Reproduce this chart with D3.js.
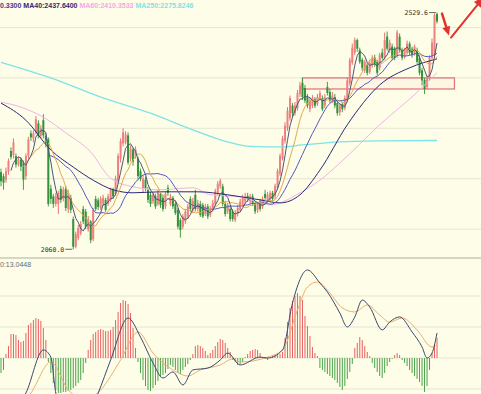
<!DOCTYPE html>
<html>
<head>
<meta charset="utf-8">
<script src="https://cdn.jsdelivr.net/npm/d3@7/dist/d3.min.js"></script>
<style>
  body { margin: 0; background: #fdfde8; }
  svg { display: block; }
</style>
</head>
<body>
<svg id="chart" width="481" height="394"></svg>
<script>
// daily candles
const opens = [2213,2205,2198,2214,2255,2247,2245,2228,2238,2232,
  2205,2245,2290,2280,2292,2310,2285,2316,2285,2278,
  2180,2165,2150,2150,2180,2160,2180,2140,2162,2120,
  2065,2082,2092,2140,2135,2100,2115,2080,2160,2157,
  2142,2150,2158,2150,2158,2178,2170,2195,2240,2270,
  2272,2286,2240,2258,2245,2240,2215,2180,2198,2178,
  2168,2155,2165,2150,2170,2162,2145,2182,2150,2162,
  2150,2138,2118,2105,2115,2125,2160,2138,2168,2140,
  2150,2148,2130,2145,2128,2138,2150,2172,2185,2185,
  2150,2135,2140,2135,2118,2130,2138,2148,2155,2166,
  2155,2165,2150,2138,2155,2145,2170,2158,2160,2172,
  2165,2182,2210,2240,2275,2300,2320,2345,2330,2340,
  2368,2390,2380,2362,2338,2345,2358,2348,2360,2360,
  2345,2382,2372,2355,2362,2350,2332,2348,2340,2356,
  2390,2430,2450,2475,2455,2436,2415,2425,2412,2425,
  2440,2432,2420,2450,2440,2482,2455,2462,2458,2445,
  2482,2455,2442,2450,2468,2458,2448,2455,2440,2415,
  2396,2382,2398,2440,2445,2527];
const closes = [2195,2192,2215,2235,2243,2272,2228,2238,2224,2198,
  2245,2278,2282,2290,2318,2285,2300,2286,2270,2150,
  2160,2150,2165,2172,2158,2178,2142,2172,2138,2065,
  2090,2102,2110,2115,2105,2120,2078,2138,2140,2144,
  2160,2162,2138,2165,2178,2165,2200,2245,2275,2292,
  2288,2232,2260,2234,2258,2205,2200,2200,2180,2158,
  2150,2168,2145,2172,2148,2140,2170,2172,2164,2145,
  2132,2105,2098,2125,2135,2145,2140,2156,2140,2152,
  2128,2125,2145,2125,2140,2152,2175,2190,2196,2150,
  2130,2148,2120,2120,2132,2142,2155,2162,2165,2160,
  2165,2152,2135,2150,2140,2160,2162,2168,2172,2160,
  2185,2215,2245,2280,2305,2335,2360,2330,2345,2370,
  2385,2362,2355,2345,2355,2360,2345,2362,2370,2338,
  2362,2370,2355,2365,2345,2330,2345,2338,2360,2395,
  2435,2460,2475,2458,2432,2420,2432,2410,2430,2440,
  2428,2410,2445,2440,2475,2458,2470,2440,2440,2490,
  2455,2440,2455,2468,2450,2445,2462,2432,2410,2395,
  2378,2398,2440,2470,2525,2512];
const highs = [2220,2210,2222,2240,2262,2280,2250,2244,2242,2236,
  2250,2283,2296,2296,2324,2316,2306,2328,2290,2282,
  2188,2170,2172,2176,2186,2184,2186,2178,2168,2125,
  2095,2108,2116,2146,2140,2126,2118,2142,2166,2162,
  2165,2168,2162,2170,2182,2182,2206,2250,2280,2300,
  2294,2292,2266,2262,2264,2244,2220,2206,2204,2184,
  2174,2172,2170,2178,2175,2168,2175,2188,2170,2166,
  2155,2142,2122,2130,2140,2150,2165,2162,2178,2158,
  2156,2152,2150,2150,2146,2158,2180,2195,2200,2190,
  2156,2152,2146,2140,2138,2148,2160,2168,2172,2172,
  2170,2170,2155,2154,2160,2165,2178,2174,2176,2176,
  2190,2220,2250,2285,2312,2342,2365,2350,2352,2376,
  2392,2400,2386,2368,2362,2366,2362,2368,2375,2365,
  2368,2392,2378,2372,2368,2355,2350,2352,2365,2400,
  2440,2468,2480,2478,2460,2440,2436,2430,2436,2445,
  2446,2436,2450,2458,2490,2492,2476,2468,2462,2495,
  2488,2460,2460,2474,2472,2462,2466,2460,2445,2420,
  2400,2404,2445,2478,2528,2529.6];
const lows = [2185,2178,2192,2208,2238,2240,2222,2224,2215,2178,
  2198,2240,2275,2272,2288,2280,2280,2280,2262,2145,
  2150,2142,2145,2130,2152,2155,2136,2132,2132,2060,
  2062,2078,2088,2110,2100,2095,2072,2076,2136,2138,
  2138,2146,2134,2146,2154,2160,2166,2190,2232,2264,
  2268,2228,2234,2226,2240,2198,2195,2172,2175,2152,
  2144,2150,2140,2146,2142,2135,2140,2166,2146,2140,
  2128,2100,2083,2100,2110,2120,2135,2132,2135,2135,
  2124,2122,2126,2120,2124,2134,2146,2168,2180,2145,
  2125,2130,2115,2115,2114,2125,2134,2144,2150,2154,
  2150,2146,2130,2132,2135,2140,2158,2152,2155,2155,
  2160,2178,2205,2236,2270,2295,2315,2322,2325,2335,
  2362,2356,2350,2340,2332,2340,2340,2344,2355,2334,
  2340,2365,2350,2350,2340,2325,2325,2332,2336,2352,
  2385,2426,2445,2452,2428,2414,2410,2405,2408,2420,
  2422,2405,2415,2436,2436,2454,2450,2436,2435,2440,
  2450,2435,2438,2446,2445,2440,2444,2428,2405,2385,
  2368,2378,2394,2436,2440,2508];

// long moving averages, [candle index, value]
const ma40 = [[0,2350],[10,2316],[20,2257],[29,2223],[37,2197],[45,2178],[53,2172],[64,2174],
  [79,2174],[91,2168],[104,2158],[112,2152],[120,2168],[128,2217],[139,2307],[152,2386],[164,2420],[175,2437.64]];
const ma60 = [[0,2352],[8,2342],[17,2322],[26,2291],[36,2253],[44,2201],[53,2184],[64,2178],
  [77,2182],[84,2168],[96,2164],[108,2148],[113,2154],[120,2172],[128,2197],[136,2231],[152,2307],[168,2376],[175,2410.3533]];
const ma250 = [[0,2431],[20,2400],[40,2362],[60,2330],[77,2297],[91,2273],[100,2264],[112,2263],
  [121,2267],[136,2273],[152,2275],[175,2275.8246]];

// MACD
const macdHist = [-9.7,-7.7,2.6,7.7,15.5,15.5,14.8,11.6,10.3,11,
  16.1,21.3,22.6,24.5,25.8,25.2,23.9,19.4,11.6,-2.6,
  -9.7,-16.1,-20.6,-22.6,-22.6,-21.9,-21.9,-21.3,-20.6,-19.4,
  -18.1,-16.1,-14.2,-9.7,-3.2,5.2,11.6,15.5,16.8,18.1,
  18.7,18.1,17.4,17.4,18.1,20,24.5,29.7,35.5,37.4,
  36.8,34.8,29,19.4,6.5,-2.6,-9.7,-14.2,-18.1,-20.6,
  -21.3,-19.4,-17.4,-14.8,-12.3,-11,-9.7,-7.1,-4.5,-5.8,
  -7.7,-9.7,-10.3,-7.7,-5.8,-3.9,-1.3,2.6,7.7,8.4,
  7.7,6.5,4.5,1.9,3.2,5.2,7.7,10.3,12.3,11.6,
  9.7,6.5,3.9,-1.3,-2.6,-4.5,-3.9,-2.6,0.6,2.6,
  4.5,5.2,5.8,5.2,3.2,0.6,-0.6,-1.3,0.6,1.3,
  1.9,1.9,2.6,3.9,12.9,23.2,32.3,36.8,40,41.9,
  40,37.4,27.1,20.6,14.2,7.1,3.2,1.3,-6.5,-7.7,
  -9,-10.3,-11.6,-12.9,-14.2,-16.1,-18.7,-20.6,-18.1,-13.5,
  -9,-3.9,6.5,9.7,13.5,11.6,7.7,3.9,1.3,-3.2,
  -6.5,-9,-11.6,-12.9,-9.7,-5.2,-2.6,-0.6,1.9,3.2,
  1.9,-1.3,-3.2,-5.2,-7.7,-9.7,-11.6,-13.5,-15.5,-18.1,
  -21.9,-18.1,-7.7,3.2,9,13.0448];
const dif = [[0,-46],[4,-37],[10,-22.6],[17,5.2],[20,0.6],[22,-22.6],[26,-37],[32,-40],[36,-33.5],
  [39,-22.6],[44,-1.3],[51,25.8],[56,13.5],[61,-3.2],[65,-12.9],[69,-9],[73,-17.4],[77,-7.7],
  [83,-6.5],[88,-1.3],[91,3.2],[96,-4.5],[104,0.6],[107,0],[113,5.2],[117,35.5],[123,56.8],
  [128,48.4],[131,42.6],[136,29],[139,20],[142,26.5],[145,37.4],[148,32.9],[153,18.1],
  [156,23.2],[160,26.5],[165,16.8],[169,7.1],[171,0],[173,3.2],[175,16.1]];
const dea = [[0,-43],[6,-33.5],[12,-22.6],[20,-2.6],[27,-20.6],[34,-27],[40,-20.6],[48,-1.3],
  [55,16.8],[61,3.2],[69,-7.7],[75,-11.6],[80,-7.7],[88,-4.5],[93,-0.6],[96,-2.6],[107,0.6],
  [113,5.2],[119,31],[123,45.8],[127,49],[132,41.9],[137,32.3],[142,29.7],[147,34.2],
  [152,27.7],[156,23.2],[161,25.8],[167,18.1],[173,7.1],[175,8.4]];

const priceTicks = [2100, 2200, 2300, 2400, 2500];
const macdTicks = [-20, 0, 20, 40];
const boxIdx = [121, 182];
const boxPrice = [2378, 2400];

const W = 481, H = 394, split = 258;
const bg = '#fdfde8';
const upColor = '#e86060', downColor = '#34923a';

const svg = d3.select('#chart');
svg.append('rect').attr('width', W).attr('height', H).attr('fill', bg);

const x = d3.scaleLinear().domain([0, closes.length - 1]).range([1, 437]);
const y = d3.scaleLinear().domain([2100, 2500]).range([229.1, 27.5]);
const ym = d3.scaleLinear().domain([-20, 40]).range([389, 296]);

const defs = svg.append('defs');
defs.append('clipPath').attr('id', 'clipTop')
  .append('rect').attr('x', 0).attr('y', 0).attr('width', W).attr('height', split - 1);
defs.append('clipPath').attr('id', 'clipBot')
  .append('rect').attr('x', 0).attr('y', split + 1).attr('width', W).attr('height', H - split);

// grid
svg.append('g').selectAll('line').data(priceTicks).join('line')
  .attr('x1', 0).attr('x2', W)
  .attr('y1', d => y(d)).attr('y2', d => y(d))
  .attr('stroke', '#e7e5d5').attr('stroke-width', 1);
svg.append('g').selectAll('line').data(macdTicks).join('line')
  .attr('x1', 0).attr('x2', W)
  .attr('y1', d => ym(d)).attr('y2', d => ym(d))
  .attr('stroke', '#e7e5d5').attr('stroke-width', 1);
svg.append('line').attr('x1', 0).attr('x2', W).attr('y1', split).attr('y2', split)
  .attr('stroke', '#d6d6c6').attr('stroke-width', 2);

const pricePanel = svg.append('g').attr('clip-path', 'url(#clipTop)');

// box zone
pricePanel.append('rect')
  .attr('x', x(boxIdx[0])).attr('y', y(boxPrice[1]))
  .attr('width', x(boxIdx[1]) - x(boxIdx[0]))
  .attr('height', y(boxPrice[0]) - y(boxPrice[1]))
  .attr('fill', 'rgba(240,160,160,0.08)')
  .attr('stroke', '#e07a7a').attr('stroke-width', 1.3);

// candles
const candles = closes.map((c, i) => ({ i, o: opens[i], h: highs[i], l: lows[i], c }));
const cg = pricePanel.append('g');
cg.selectAll('line').data(candles).join('line')
  .attr('x1', d => x(d.i)).attr('x2', d => x(d.i))
  .attr('y1', d => y(d.h)).attr('y2', d => y(d.l))
  .attr('stroke', d => d.c >= d.o ? upColor : downColor).attr('stroke-width', 0.9);
cg.selectAll('rect').data(candles).join('rect')
  .attr('x', d => x(d.i) - 1)
  .attr('y', d => y(Math.max(d.o, d.c)))
  .attr('width', 2)
  .attr('height', d => Math.max(1, Math.abs(y(d.o) - y(d.c))))
  .attr('fill', d => d.c >= d.o ? '#ee8080' : downColor);

// moving averages
function movingAvg(n) {
  return closes.map((c, i) => i < n - 1 ? null : d3.mean(closes.slice(i - n + 1, i + 1)));
}
const lineC = d3.line().defined(d => d != null).x((d, i) => x(i)).y(d => y(d));
const lineS = d3.line().x(d => x(d[0])).y(d => y(d[1])).curve(d3.curveMonotoneX);

pricePanel.append('path').datum(ma250).attr('d', lineS).attr('fill', 'none').attr('stroke', '#7fe3e6').attr('stroke-width', 1.3);
pricePanel.append('path').datum(ma60).attr('d', lineS).attr('fill', 'none').attr('stroke', '#f0b4e6').attr('stroke-width', 1);
pricePanel.append('path').datum(ma40).attr('d', lineS).attr('fill', 'none').attr('stroke', '#2a2a78').attr('stroke-width', 1);
pricePanel.append('path').datum(movingAvg(20)).attr('d', lineC).attr('fill', 'none').attr('stroke', '#5858c0').attr('stroke-width', 1);
pricePanel.append('path').datum(movingAvg(10)).attr('d', lineC).attr('fill', 'none').attr('stroke', '#e4a850').attr('stroke-width', 1);
pricePanel.append('path').datum(movingAvg(5)).attr('d', lineC).attr('fill', 'none').attr('stroke', '#4a5878').attr('stroke-width', 1);

// high / low labels
const hiIdx = d3.maxIndex(highs), loIdx = d3.minIndex(lows);
const labelFont = "'DejaVu Sans Mono', monospace";
[[hiIdx, highs[hiIdx]], [loIdx, lows[loIdx]]].forEach(([i, v]) => {
  const px = x(i), py = y(v);
  svg.append('line').attr('x1', px - 8).attr('x2', px - 1).attr('y1', py).attr('y2', py)
    .attr('stroke', '#444').attr('stroke-width', 0.8);
  svg.append('text').attr('x', px - 9).attr('y', py + 2.5)
    .attr('text-anchor', 'end').attr('font-family', labelFont).attr('font-size', 6.5)
    .attr('fill', '#333').text(v.toFixed(1));
});

// red arrows drawn next to the last high
function arrow(x1, y1, x2, y2, w, hl, hw) {
  const a = Math.atan2(y2 - y1, x2 - x1);
  const bx = x2 - hl * Math.cos(a), by = y2 - hl * Math.sin(a);
  svg.append('line').attr('x1', x1).attr('y1', y1).attr('x2', bx).attr('y2', by)
    .attr('stroke', '#e5322e').attr('stroke-width', w).attr('stroke-linecap', 'round');
  const px = -Math.sin(a) * hw / 2, py = Math.cos(a) * hw / 2;
  svg.append('path')
    .attr('d', `M${x2},${y2}L${bx + px},${by + py}L${bx - px},${by - py}Z`)
    .attr('fill', '#e5322e');
}
const lx = x(hiIdx), hy = y(highs[hiIdx]);
arrow(lx + 5, hy + 1, lx + 12, hy + 23, 2.5, 9, 8);
arrow(lx + 14, hy + 25, lx + 48, hy - 17, 2, 12, 9);

// legend text
const legend = svg.append('text').attr('x', 0).attr('y', 8)
  .attr('font-family', "'Liberation Sans', Arial, sans-serif").attr('font-size', 7).attr('font-weight', 'bold');
legend.append('tspan').attr('fill', '#3c3c96').text('0.3300 ');
legend.append('tspan').attr('fill', '#2a2a78').text('MA40:' + ma40[ma40.length - 1][1].toFixed(4) + ' ');
legend.append('tspan').attr('fill', '#f3a8e6').text('MA60:' + ma60[ma60.length - 1][1].toFixed(4) + ' ');
legend.append('tspan').attr('fill', '#7fe3e6').text('MA250:' + ma250[ma250.length - 1][1].toFixed(4));

// MACD panel
const macdPanel = svg.append('g').attr('clip-path', 'url(#clipBot)');
macdPanel.append('g').selectAll('line').data(macdHist).join('line')
  .attr('x1', (d, i) => x(i)).attr('x2', (d, i) => x(i))
  .attr('y1', ym(0)).attr('y2', d => ym(d))
  .attr('stroke', d => d >= 0 ? upColor : '#4aa24a').attr('stroke-width', 1);

const lineM = d3.line().x(d => x(d[0])).y(d => ym(d[1])).curve(d3.curveMonotoneX);
macdPanel.append('path').datum(dea).attr('d', lineM).attr('fill', 'none').attr('stroke', '#e8b070').attr('stroke-width', 1);
macdPanel.append('path').datum(dif).attr('d', lineM).attr('fill', 'none').attr('stroke', '#3e4a70').attr('stroke-width', 1);

svg.append('text').attr('x', 0).attr('y', 267)
  .attr('font-family', "'Liberation Sans', Arial, sans-serif").attr('font-size', 7)
  .attr('fill', '#6a6a6a').text('0:' + macdHist[macdHist.length - 1].toFixed(4));
</script>
</body>
</html>
